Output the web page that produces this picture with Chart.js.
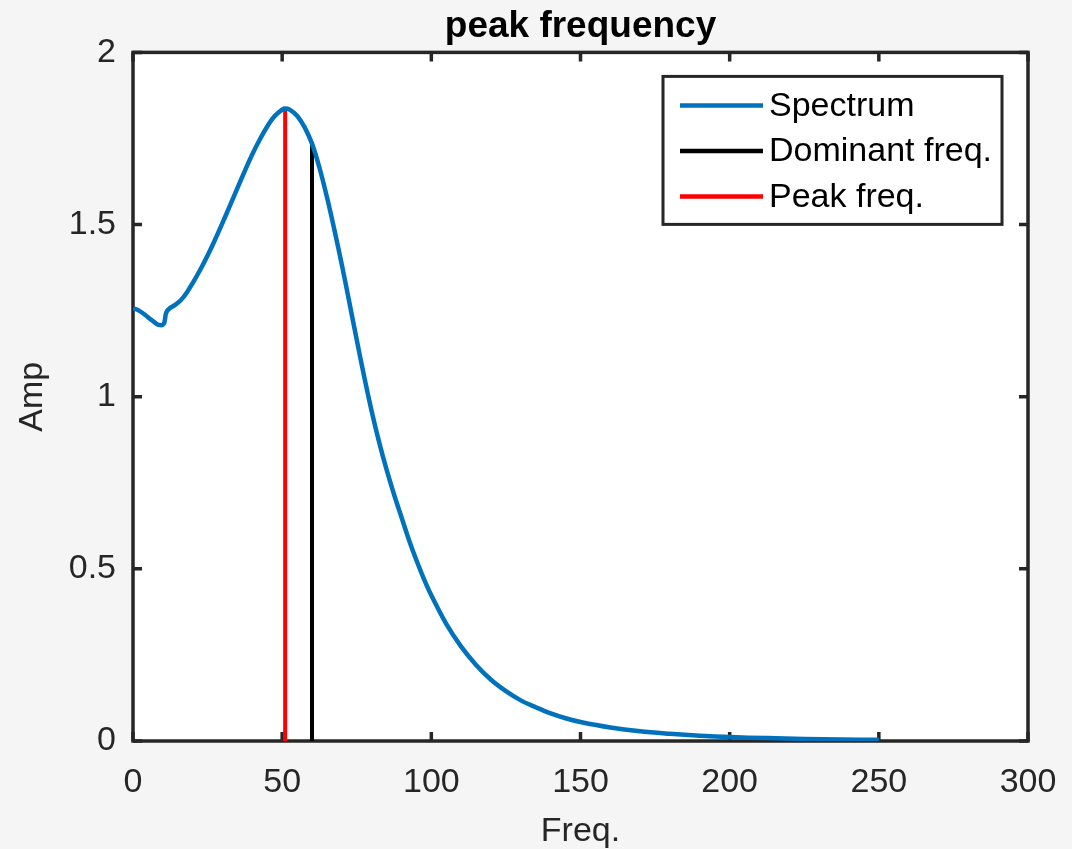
<!DOCTYPE html>
<html>
<head>
<meta charset="utf-8">
<title>peak frequency</title>
<script src="https://cdn.jsdelivr.net/npm/chart.js@4.4.1/dist/chart.umd.min.js"></script>
<style>
  html, body { margin: 0; padding: 0; background: #f5f5f5; }
  #wrap { width: 1072px; height: 849px; }
</style>
</head>
<body>
<div id="wrap"><canvas id="peakChart" width="1072" height="849"></canvas></div>
<script>
// ===== data =====
const freq = [0, 2, 4, 6, 8, 9, 10, 10.5, 11, 11.5, 12.5, 14, 16, 18, 20, 22.5, 25, 27.5, 30, 32.5,
              35, 37.5, 40, 42.5, 45, 47.5, 50, 51, 52.5, 55, 57.5, 60, 62.5, 65, 67.5, 70, 72.5, 75, 77.5, 80,
              82.5, 85, 87.5, 90, 92.5, 95, 97.5, 100, 105, 110, 115, 120, 125, 130, 135, 140, 145, 150, 160, 170,
              180, 190, 200, 212.5, 225, 237.5, 250];
const amp = [1.257, 1.250, 1.238, 1.224, 1.211, 1.208, 1.209, 1.215, 1.240, 1.250, 1.258, 1.266, 1.280, 1.302, 1.330, 1.368, 1.410, 1.456, 1.505, 1.555,
             1.606, 1.656, 1.704, 1.747, 1.785, 1.815, 1.834, 1.837, 1.834, 1.816, 1.783, 1.735, 1.665, 1.580, 1.485, 1.383, 1.275, 1.165, 1.058, 0.958,
             0.868, 0.788, 0.716, 0.650, 0.584, 0.525, 0.471, 0.423, 0.340, 0.274, 0.221, 0.178, 0.145, 0.118, 0.098, 0.080, 0.066, 0.055, 0.039, 0.028,
             0.021, 0.0155, 0.0115, 0.0084, 0.0061, 0.0045, 0.0033];
const peakFreq = 51;
const peakAmp = 1.837;
const domFreq = 60;
const domAmp = 1.74;
const xTicks = [0, 50, 100, 150, 200, 250, 300];
const yTicks = [0, 0.5, 1, 1.5, 2];
const seriesLabels = ['Spectrum', 'Dominant freq.', 'Peak freq.'];

const FONT = "'Liberation Sans', Arial, Helvetica, sans-serif";
const AXIS = '#262626';

// background + white plot area + box with inward ticks (MATLAB style)
const boxPlugin = {
    id: 'matlabBox',
    beforeDraw(chart) {
        const { ctx, chartArea: a } = chart;
        ctx.save();
        ctx.fillStyle = '#f5f5f5';
        ctx.fillRect(0, 0, chart.width, chart.height);
        ctx.fillStyle = '#ffffff';
        ctx.fillRect(a.left, a.top, a.right - a.left, a.bottom - a.top);
        ctx.restore();
    },
    beforeDatasetsDraw(chart) {
        const { ctx, chartArea: a, scales } = chart;
        const len = 9;
        ctx.save();
        ctx.strokeStyle = AXIS;
        ctx.lineWidth = 3.5;
        ctx.lineCap = 'butt';
        ctx.beginPath();
        xTicks.forEach(v => {
            const px = scales.x.getPixelForValue(v);
            ctx.moveTo(px, a.bottom); ctx.lineTo(px, a.bottom - len);
            ctx.moveTo(px, a.top); ctx.lineTo(px, a.top + len);
        });
        yTicks.forEach(v => {
            const py = scales.y.getPixelForValue(v);
            ctx.moveTo(a.left, py); ctx.lineTo(a.left + len, py);
            ctx.moveTo(a.right, py); ctx.lineTo(a.right - len, py);
        });
        ctx.stroke();
        ctx.lineJoin = 'miter';
        ctx.strokeRect(a.left, a.top, a.right - a.left, a.bottom - a.top);
        ctx.restore();
    },
    afterDraw(chart) {
        // legend box, upper right
        const { ctx, chartArea: a } = chart;
        const w = 339, h = 148;
        const x0 = a.right - 26 - w, y0 = a.top + 24;
        ctx.save();
        ctx.fillStyle = '#ffffff';
        ctx.fillRect(x0, y0, w, h);
        ctx.strokeStyle = AXIS;
        ctx.lineWidth = 3;
        ctx.strokeRect(x0, y0, w, h);
        ctx.font = '34px ' + FONT;
        ctx.textBaseline = 'middle';
        ctx.fillStyle = '#000000';
        chart.data.datasets.forEach((ds, i) => {
            const y = y0 + 29 + i * 45.5;
            ctx.strokeStyle = ds.borderColor;
            ctx.lineWidth = 4.5;
            ctx.beginPath();
            ctx.moveTo(x0 + 17, y); ctx.lineTo(x0 + 100, y);
            ctx.stroke();
            ctx.fillText(ds.label, x0 + 106, y + 1);
        });
        ctx.restore();
    }
};

new Chart(document.getElementById('peakChart'), {
    type: 'line',
    data: {
        datasets: [{
            label: seriesLabels[0],
            data: freq.map((f, i) => ({ x: f, y: amp[i] })),
            borderColor: '#0072BD',
            borderWidth: 4.5,
            pointRadius: 0,
            tension: 0.35,
            fill: false
        }, {
            label: seriesLabels[1],
            data: [{ x: domFreq, y: 0 }, { x: domFreq, y: domAmp }],
            borderColor: '#000000',
            borderWidth: 4,
            pointRadius: 0
        }, {
            label: seriesLabels[2],
            data: [{ x: peakFreq, y: 0 }, { x: peakFreq, y: peakAmp }],
            borderColor: '#ff0000',
            borderWidth: 4,
            pointRadius: 0
        }]
    },
    options: {
        responsive: false,
        animation: false,
        layout: { padding: { left: 0, right: 44, top: 0, bottom: 0 } },
        plugins: {
            legend: { display: false },
            tooltip: { enabled: false },
            title: {
                display: true,
                text: 'peak frequency',
                fullSize: false,
                color: '#000000',
                font: { family: FONT, size: 37, weight: 'bold' },
                padding: { top: 5, bottom: 3 }
            }
        },
        scales: {
            x: {
                type: 'linear',
                min: 0, max: 300,
                afterBuildTicks: s => { s.ticks = xTicks.map(v => ({ value: v })); },
                afterFit: s => { s.height = 108; },
                grid: { display: false },
                border: { display: false },
                ticks: { color: AXIS, padding: 13, maxRotation: 0, font: { family: FONT, size: 34 } },
                title: { display: true, text: 'Freq.', color: AXIS, padding: { top: 0, bottom: 0 }, font: { family: FONT, size: 34, lineHeight: 1 } }
            },
            y: {
                min: 0, max: 2,
                afterBuildTicks: s => { s.ticks = yTicks.map(v => ({ value: v })); },
                afterFit: s => { s.width = 133; },
                grid: { display: false },
                border: { display: false },
                ticks: { color: AXIS, padding: 9, font: { family: FONT, size: 34 }, callback: v => String(v) },
                title: { display: true, text: 'Amp', color: AXIS, padding: { top: 12, bottom: 0 }, font: { family: FONT, size: 34 } }
            }
        }
    },
    plugins: [boxPlugin]
});
</script>
</body>
</html>
